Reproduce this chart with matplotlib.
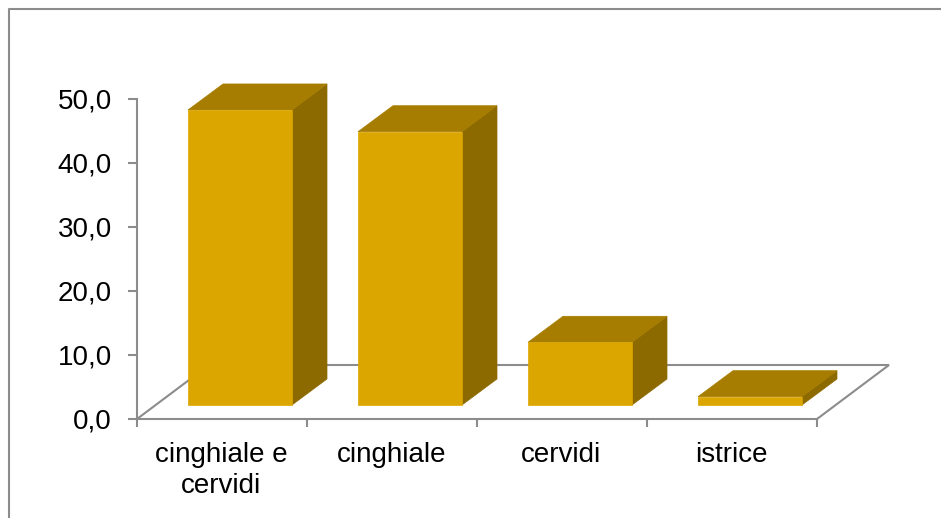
import matplotlib
matplotlib.use("Agg")
import matplotlib.pyplot as plt
from matplotlib.patches import Polygon

categories = ["cinghiale e\ncervidi", "cinghiale", "cervidi", "istrice"]
values = [46.1, 42.7, 9.8, 1.3]
yticks = [0, 10, 20, 30, 40, 50]
yticklabels = ["0,0", "10,0", "20,0", "30,0", "40,0", "50,0"]

W, H = 941, 518
GRAY = "#8c8c8c"
FRONT = "#dca600"
TOP = "#a67d00"
SIDE = "#8c6a00"

plt.rcParams["font.family"] = ["Liberation Sans", "DejaVu Sans"]

fig = plt.figure(figsize=(W / 100, H / 100), dpi=100)

# outer chart frame, only left and top show up
fig.add_artist(plt.Line2D([8.5 / W, 8.5 / W, 1], [0, 1 - 8.5 / H, 1 - 8.5 / H],
                          color=GRAY, lw=1.5))

# axes box in pixels: x 137-817, y 99-419
ax = fig.add_axes([137 / W, 1 - 419 / H, 680 / W, 320 / H])
ax.set_xlim(0, 4)
ax.set_ylim(0, 50)
ax.patch.set_visible(False)

for s in ["top", "right"]:
    ax.spines[s].set_visible(False)
for s in ["left", "bottom"]:
    ax.spines[s].set_color(GRAY)
    ax.spines[s].set_linewidth(1.5)

ax.set_yticks(yticks)
ax.set_yticklabels(yticklabels, fontsize=20, color="black")
ax.set_xticks([0, 1, 2, 3, 4])
ax.set_xticklabels([])
ax.tick_params(axis="both", color=GRAY, width=1.5, length=6)
ax.tick_params(axis="y", length=6.5, pad=11.5)

# category labels sit in the middle of each slot
for i, c in enumerate(categories):
    ax.text(i + 0.495, -3.6, c, ha="center", va="top", fontsize=20,
            linespacing=1.27, color="black")

# floor outline running back from the axis ends
floor_dx, floor_dy = 72 / 170, 54 / 6.4
ax.plot([0, floor_dx, 4 + floor_dx, 4], [0, floor_dy, floor_dy, 0],
        color=GRAY, lw=1.5, clip_on=False, zorder=1, solid_joinstyle="miter")

# extruded bars
bar_x0, bar_w = 51 / 170, 104 / 170
base = 14 / 6.4
dx, dy = 35 / 170, 26 / 6.4
for i, v in enumerate(values):
    x0 = i + bar_x0
    x1 = x0 + bar_w
    top = base + v
    ax.add_patch(Polygon([(x1, base), (x1 + dx, base + dy), (x1 + dx, top + dy), (x1, top)],
                         fc=SIDE, ec=SIDE, lw=0.5, clip_on=False, zorder=3))
    ax.add_patch(Polygon([(x0, top), (x1, top), (x1 + dx, top + dy), (x0 + dx, top + dy)],
                         fc=TOP, ec=TOP, lw=0.5, clip_on=False, zorder=3))
    ax.add_patch(Polygon([(x0, base), (x1, base), (x1, top), (x0, top)],
                         fc=FRONT, ec=FRONT, lw=0.5, clip_on=False, zorder=4))

fig.savefig("out.png", dpi=100)
